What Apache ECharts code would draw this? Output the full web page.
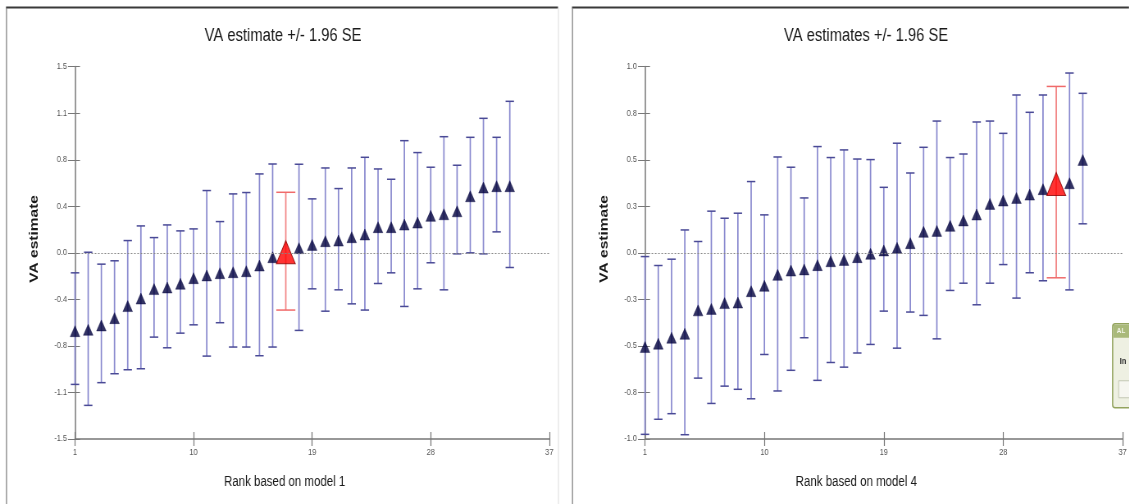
<!DOCTYPE html>
<html><head><meta charset="utf-8">
<script src="https://cdn.jsdelivr.net/npm/echarts@6/dist/echarts.min.js"></script>
<style>
html,body{margin:0;padding:0;background:#fff;overflow:hidden;width:1129px;height:504px}
#c{height:504px;transform-origin:0 0}
</style>
</head><body><div id="c"></div>
<script>
// ---------- data ----------
const ranks = [1,2,3,4,5,6,7,8,9,10,11,12,13,14,15,16,17,18,19,20,21,22,23,24,25,26,27,28,29,30,31,32,33,34];

// Model 1 (left panel)
const est1 = [-0.631,-0.620,-0.585,-0.526,-0.429,-0.368,-0.292,-0.279,-0.249,-0.204,-0.182,-0.164,-0.156,-0.148,-0.102,-0.035,0.005,0.038,0.064,0.094,0.099,0.126,0.148,0.207,0.207,0.228,0.244,0.298,0.311,0.335,0.456,0.526,0.537,0.537];
const lo1  = [-1.060,-1.229,-1.046,-0.974,-0.942,-0.934,-0.679,-0.765,-0.647,-0.580,-0.832,-0.563,-0.759,-0.759,-0.829,-0.759,-0.461,-0.625,-0.290,-0.470,-0.298,-0.411,-0.461,-0.247,-0.161,-0.432,-0.290,-0.080,-0.298,-0.008,0.000,-0.008,0.169,-0.118];
const hi1  = [-0.161,0.005,-0.091,-0.064,0.099,0.217,0.123,0.225,0.177,0.193,0.502,0.252,0.475,0.486,0.636,0.716,0.488,0.714,0.435,0.684,0.518,0.684,0.770,0.676,0.593,0.904,0.808,0.690,0.936,0.706,0.931,1.084,0.931,1.221];
const highlight1 = 17;

// Model 4 (right panel)
const est4 = [-0.506,-0.488,-0.456,-0.435,-0.309,-0.301,-0.270,-0.267,-0.206,-0.177,-0.118,-0.095,-0.089,-0.066,-0.045,-0.038,-0.023,-0.005,0.013,0.027,0.052,0.113,0.118,0.145,0.174,0.206,0.263,0.281,0.295,0.313,0.342,0.370,0.374,0.499];
const lo4  = [-0.975,-0.894,-0.864,-0.977,-0.673,-0.809,-0.716,-0.733,-0.784,-0.546,-0.742,-0.631,-0.456,-0.685,-0.589,-0.614,-0.538,-0.492,-0.313,-0.512,-0.318,-0.336,-0.462,-0.202,-0.163,-0.279,-0.163,-0.063,-0.243,-0.107,-0.150,-0.134,-0.199,0.156];
const hi4  = [-0.020,-0.068,-0.034,0.123,0.061,0.224,0.186,0.213,0.383,0.204,0.515,0.460,0.295,0.571,0.512,0.553,0.504,0.501,0.352,0.589,0.429,0.567,0.708,0.512,0.531,0.703,0.708,0.642,0.848,0.755,0.848,0.894,0.966,0.857];
const highlight4 = 32;

// tick labels
const yTicks1 = ['-1.5','-1.1','-0.8','-0.4','0.0','0.4','0.8','1.1','1.5'];
const yTicks4 = ['-1.0','-0.8','-0.5','-0.3','0.0','0.3','0.5','0.8','1.0'];
const xTicks  = ['1','10','19','28','37'];

const titles = ['VA estimate +/- 1.96 SE', 'VA estimates +/- 1.96 SE'];
const xNames = ['Rank based on model 1', 'Rank based on model 4'];
const yName = 'VA estimate';

// ---------- layout (the original screenshot is horizontally condensed) ----------
const S = 0.82;                    // horizontal squeeze of the whole picture
const X = v => v / S;              // screen x -> chart x
const el = document.getElementById('c');
el.style.width = X(1129) + 'px';
el.style.transform = 'scaleX(' + S + ')';

const FONT = "'Liberation Sans',Arial,sans-serif";
const chart = echarts.init(el, null, {renderer:'canvas'});

function errRender(color, capColor, capHalf) {
  return function (params, api) {
    const x = api.value(0), lo = api.value(1), hi = api.value(2);
    const a = api.coord([x, lo]), b = api.coord([x, hi]);
    return {type:'group', children:[
      {type:'line', shape:{x1:a[0], y1:a[1], x2:b[0], y2:b[1]}, style:{stroke:color, lineWidth:1.7}},
      {type:'line', shape:{x1:a[0]-capHalf, y1:a[1], x2:a[0]+capHalf, y2:a[1]}, style:{stroke:capColor, lineWidth:1.5}},
      {type:'line', shape:{x1:b[0]-capHalf, y1:b[1], x2:b[0]+capHalf, y2:b[1]}, style:{stroke:capColor, lineWidth:1.5}}
    ]};
  };
}

const yMins = [-1.5, -1], yMaxs = [1.5, 1], yInts = [0.375, 0.25], yLabs = [yTicks1, yTicks4];

function xAxisPair(g) {
  return [{
    gridIndex:g, type:'value', position:'bottom', min:1, max:37, interval:9,
    axisLine:{onZero:false, lineStyle:{color:'#777', width:1.5}},
    axisTick:{length:7, lineStyle:{color:'#777', width:1.2}},
    axisLabel:{fontSize:9, color:'#555', fontFamily:FONT, margin:9,
      formatter:v => xTicks[Math.round((v-1)/9)] || ''},
    splitLine:{show:false},
    name:xNames[g], nameLocation:'middle', nameGap:36,
    nameTextStyle:{fontSize:14, color:'#1a1a1a', fontFamily:FONT, padding:[0,X(55),0,0]}
  },{
    gridIndex:g, type:'value', position:'bottom', min:1, max:37, interval:9,
    axisLine:{show:false, onZero:false}, axisLabel:{show:false}, splitLine:{show:false},
    axisTick:{inside:true, length:7, lineStyle:{color:'#777', width:1.2}}
  }];
}
function yAxisPair(g) {
  return [{
    gridIndex:g, type:'value', position:'left', min:yMins[g], max:yMaxs[g], interval:yInts[g],
    axisLine:{show:true, onZero:false, lineStyle:{color:'#888', width:1.7}},
    axisTick:{show:true, length:X(7), lineStyle:{color:'#777', width:1}},
    axisLabel:{fontSize:9, color:'#555', fontFamily:FONT, margin:X(8),
      formatter:v => yLabs[g][Math.round((v-yMins[g])/yInts[g])] || ''},
    splitLine:{show:false},
    name:yName, nameLocation:'middle', nameGap:X(34), nameRotate:90,
    nameTextStyle:{fontSize:15.5, fontWeight:'bold', color:'#1a1a1a', fontFamily:FONT, padding:[0,0,0,28]}
  },{
    gridIndex:g, type:'value', position:'left', min:yMins[g], max:yMaxs[g], interval:yInts[g],
    axisLine:{show:false, onZero:false}, axisLabel:{show:false}, splitLine:{show:false},
    axisTick:{show:true, inside:true, length:X(5), lineStyle:{color:'#777', width:1}}
  }];
}

const xa = [...xAxisPair(0), ...xAxisPair(1)]; // 0 main g0, 1 dup g0, 2 main g1, 3 dup g1
const ya = [...yAxisPair(0), ...yAxisPair(1)];

function panelSeries(g, est, lo, hi, hl) {
  const xi = g*2, yi = g*2;
  const blueBars = [], redBars = [], blueTri = [], redTri = [];
  ranks.forEach((r, i) => {
    if (r === hl) { redBars.push([r, lo[i], hi[i]]); redTri.push([r, est[i]]); }
    else { blueBars.push([r, lo[i], hi[i]]); blueTri.push([r, est[i]]); }
  });
  return [
    {type:'custom', xAxisIndex:xi, yAxisIndex:yi, renderItem:errRender('#8989cf', '#4a4a96', X(4.2)), data:blueBars, z:2, clip:false},
    {type:'custom', xAxisIndex:xi, yAxisIndex:yi, renderItem:errRender('#f28282', '#f06a6a', X(9.5)), data:redBars, z:2, clip:false},
    {type:'scatter', xAxisIndex:xi, yAxisIndex:yi, data:blueTri, symbol:'triangle', symbolSize:[X(9.6),11],
      itemStyle:{color:'#00003c', borderColor:'#00003c', borderWidth:0.5}, z:3,
      markLine:{silent:true, symbol:'none', label:{show:false},
        lineStyle:{type:[2,2], color:'#888', width:1}, data:[{yAxis:0}]}},
    {type:'scatter', xAxisIndex:xi, yAxisIndex:yi, data:redTri, symbol:'triangle', symbolSize:[X(19),23],
      itemStyle:{color:'#ff0000', borderColor:'#8a0000', borderWidth:1}, z:4}
  ];
}

const option = {
  animation:false,
  backgroundColor:'#ffffff',
  textStyle:{fontFamily:FONT},
  title:[
    {text:titles[0], left:X(283), top:27, textAlign:'center', padding:0,
      textStyle:{fontSize:18, fontWeight:'normal', color:'#1a1a1a', fontFamily:FONT}},
    {text:titles[1], left:X(866), top:27, textAlign:'center', padding:0,
      textStyle:{fontSize:18, fontWeight:'normal', color:'#1a1a1a', fontFamily:FONT}}
  ],
  grid:[
    {left:X(75), top:66.7, width:X(474.3), height:372.3, containLabel:false},
    {left:X(645), top:66.7, width:X(503.6), height:372.3, containLabel:false}
  ],
  xAxis:xa,
  yAxis:ya,
  series:[...panelSeries(0, est1, lo1, hi1, highlight1), ...panelSeries(1, est4, lo4, hi4, highlight4)],
  graphic:[
    // window frames
    {type:'line', shape:{x1:X(6), y1:7.5, x2:X(558), y2:7.5}, style:{stroke:'#3a3a3a', lineWidth:2}, silent:true},
    {type:'line', shape:{x1:X(6.5), y1:8, x2:X(6.5), y2:504}, style:{stroke:'#7a7a7a', lineWidth:1.2}, silent:true},
    {type:'line', shape:{x1:X(558.5), y1:8, x2:X(558.5), y2:504}, style:{stroke:'#e2e2e2', lineWidth:1.2}, silent:true},
    {type:'line', shape:{x1:X(572), y1:7.5, x2:X(1129), y2:7.5}, style:{stroke:'#3a3a3a', lineWidth:2}, silent:true},
    {type:'line', shape:{x1:X(572.5), y1:8, x2:X(572.5), y2:504}, style:{stroke:'#7a7a7a', lineWidth:1.2}, silent:true},
    // partially visible dialog at right edge
    {type:'group', left:X(1112), top:323, silent:true, children:[
      {type:'rect', shape:{x:0, y:0, width:X(30), height:84, r:3}, style:{fill:'#eef0e2', stroke:'#93a35e', lineWidth:1.5}},
      {type:'rect', shape:{x:1, y:1, width:X(29), height:13}, style:{fill:'#a9b97a'}},
      {type:'text', style:{x:X(4), y:3, text:'AL', fill:'#f4f6ea', font:'bold 8px '+FONT}},
      {type:'text', style:{x:X(7), y:33, text:'In', fill:'#333', font:'bold 9px '+FONT}},
      {type:'rect', shape:{x:X(6), y:57, width:X(24), height:17}, style:{fill:'#f6f6f0', stroke:'#c4c8b4', lineWidth:1}}
    ]}
  ]
};
chart.setOption(option);
</script>
</body></html>
